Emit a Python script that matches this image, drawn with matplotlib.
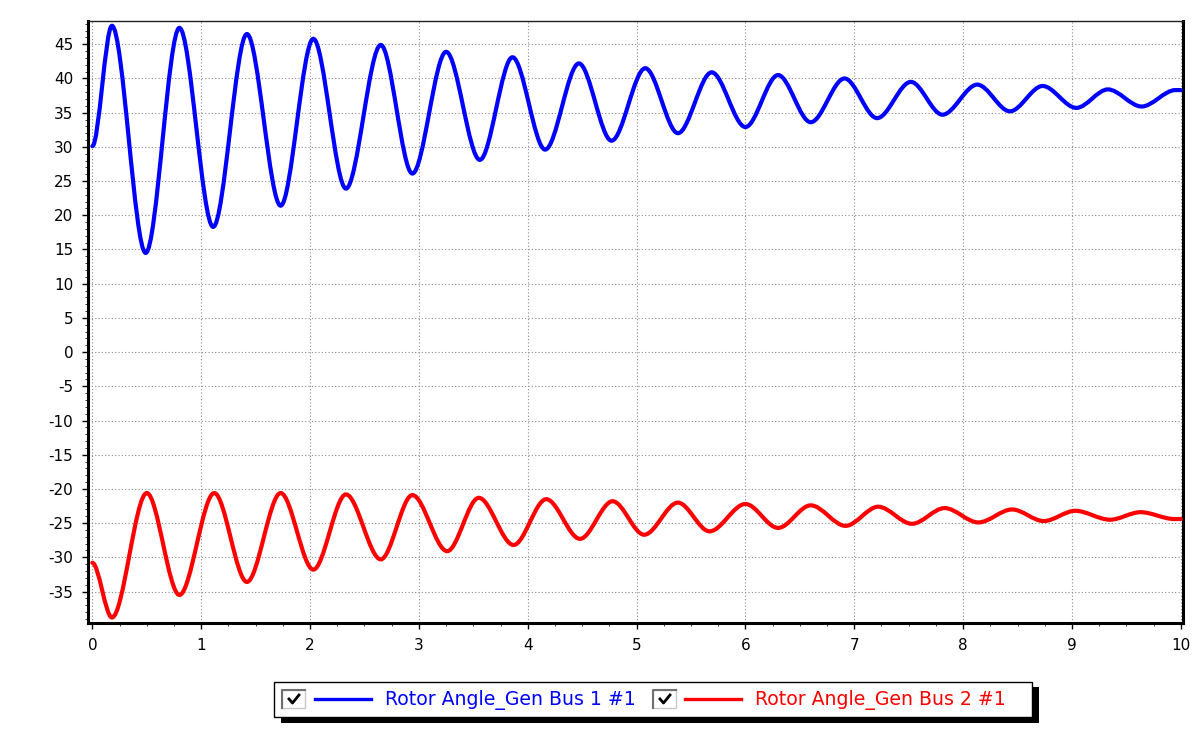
import matplotlib
matplotlib.use("Agg")
import matplotlib.pyplot as plt
from matplotlib.path import Path
from matplotlib.patches import PathPatch, Rectangle

plt.rcParams['font.family'] = ['DejaVu Sans']
plt.rcParams['axes.unicode_minus'] = False

# extrema of the two rotor angle traces (time s, angle deg)
t_gen1 = [0.0, 0.18, 0.49, 0.80, 1.11, 1.42, 1.73, 2.03, 2.33, 2.65, 2.94, 3.25,
          3.56, 3.86, 4.16, 4.47, 4.77, 5.08, 5.38, 5.69, 6.00, 6.30, 6.60, 6.91,
          7.21, 7.52, 7.81, 8.13, 8.43, 8.73, 9.04, 9.33, 9.64, 9.95, 10.0]
v_gen1 = [30.1, 47.7, 14.5, 47.4, 18.3, 46.5, 21.4, 45.8, 23.9, 44.9, 26.1, 43.9,
          28.1, 43.1, 29.6, 42.2, 30.9, 41.5, 32.0, 40.9, 32.9, 40.5, 33.6, 40.0,
          34.2, 39.5, 34.7, 39.1, 35.2, 38.9, 35.7, 38.4, 35.9, 38.3, 38.3]

t_gen2 = [0.0, 0.18, 0.50, 0.80, 1.12, 1.42, 1.73, 2.03, 2.33, 2.65, 2.94, 3.26,
          3.55, 3.87, 4.17, 4.48, 4.78, 5.07, 5.38, 5.67, 6.00, 6.30, 6.60, 6.92,
          7.22, 7.53, 7.83, 8.14, 8.45, 8.74, 9.03, 9.35, 9.63, 9.94, 10.0]
v_gen2 = [-30.8, -38.8, -20.6, -35.5, -20.6, -33.6, -20.6, -31.8, -20.8, -30.3,
          -20.9, -29.1, -21.3, -28.2, -21.5, -27.3, -21.8, -26.7, -22.0, -26.2,
          -22.2, -25.7, -22.4, -25.4, -22.6, -25.1, -22.8, -24.9, -23.0, -24.7,
          -23.2, -24.5, -23.4, -24.4, -24.4]

labels = ['Rotor Angle_Gen Bus 1 #1', 'Rotor Angle_Gen Bus 2 #1']
colors = ['#0000ff', '#ff0000']

x_ticks = list(range(0, 11))
y_ticks = list(range(-35, 50, 5))


def smooth_path(t, v, k=0.33):
    # cubic bezier through the extrema, flat tangents at each turn
    verts = [(t[0], v[0])]
    codes = [Path.MOVETO]
    for i in range(len(t) - 1):
        dt = t[i + 1] - t[i]
        verts += [(t[i] + k * dt, v[i]), (t[i + 1] - k * dt, v[i + 1]),
                  (t[i + 1], v[i + 1])]
        codes += [Path.CURVE4] * 3
    return Path(verts, codes)


fig = plt.figure(figsize=(11.94, 7.36), dpi=100)
ax = fig.add_axes([88 / 1194, 1 - 623 / 736, 1095 / 1194, 602 / 736])

for t, v, c in [(t_gen1, v_gen1, colors[0]), (t_gen2, v_gen2, colors[1])]:
    ax.add_patch(PathPatch(smooth_path(t, v), fill=False, edgecolor=c,
                           lw=3.0, joinstyle='round', capstyle='round', zorder=3))

ax.set_xlim(-0.04, 10.02)
ax.set_ylim(-39.6, 48.4)
ax.set_xticks(x_ticks)
ax.set_yticks(y_ticks)
ax.set_xticks([i * 0.25 for i in range(41)], minor=True)
ax.set_yticks(list(range(-39, 49)), minor=True)
ax.tick_params(which='major', direction='out', length=4.5, width=1, pad=6,
               labelsize=11, colors='black')
ax.tick_params(which='minor', direction='out', length=2.2, width=0.7,
               color='#404040')
ax.grid(True, which='major', color='#8c8c8c', lw=0.8, linestyle=(0, (1, 2)))
ax.set_axisbelow(True)

for side in ['left', 'bottom', 'right']:
    ax.spines[side].set_linewidth(2.2)
ax.spines['top'].set_linewidth(1.0)
ax.spines['top'].set_color('#202020')

# legend drawn in pixel space, mimicking the tool's panel
lax = fig.add_axes([0, 0, 1, 1], zorder=5)
lax.set_xlim(0, 1194)
lax.set_ylim(736, 0)
lax.axis('off')
lax.add_patch(Rectangle((281, 687), 758, 36, facecolor='black', edgecolor='none'))
lax.add_patch(Rectangle((274, 682), 758, 35, facecolor='white', edgecolor='black', lw=1))

box_x = [282, 653]
line_x = [(315, 371), (685, 741)]
text_x = [385, 755]
for i in range(2):
    bx = box_x[i]
    lax.add_patch(Rectangle((bx, 690), 23, 18, facecolor='white',
                            edgecolor='#c8c8c8', lw=1))
    lax.plot([bx, bx, bx + 23], [708, 690, 690], color='#707070', lw=1.5)
    lax.plot([bx + 7, bx + 10.5, bx + 17], [699, 703, 695], color='black', lw=2)
    lax.plot(line_x[i], [699, 699], color=colors[i], lw=2.4)
    lax.text(text_x[i], 705, labels[i], color=colors[i], fontsize=13.6,
             ha='left', va='baseline')

fig.savefig('out.png', dpi=100)
